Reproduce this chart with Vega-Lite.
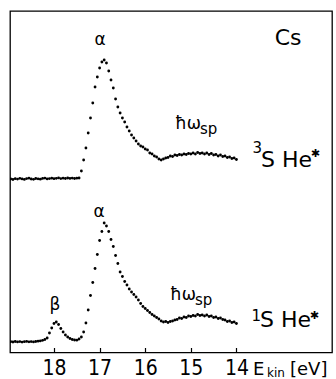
{
  "$schema": "https://vega.github.io/schema/vega-lite/v6.json",
  "autosize": "none",
  "padding": {"left": 10, "top": 11, "right": 4, "bottom": 26.5},
  "width": 322,
  "height": 341.5,
  "background": "white",
  "config": {
    "view": {"stroke": "black", "strokeWidth": 1.3},
    "font": "DejaVu Sans"
  },
  "datasets": {
    "spectra": [
      {"s":"3S","e":18.95,"c":173.5},{"s":"3S","e":18.90,"c":173.0},{"s":"3S","e":18.85,"c":173.8},{"s":"3S","e":18.80,"c":173.4},
      {"s":"3S","e":18.75,"c":174.2},{"s":"3S","e":18.70,"c":173.6},{"s":"3S","e":18.65,"c":173.1},{"s":"3S","e":18.60,"c":173.9},
      {"s":"3S","e":18.55,"c":174.3},{"s":"3S","e":18.50,"c":173.5},{"s":"3S","e":18.45,"c":173.2},{"s":"3S","e":18.40,"c":174.0},
      {"s":"3S","e":18.35,"c":173.7},{"s":"3S","e":18.30,"c":173.3},{"s":"3S","e":18.25,"c":174.1},{"s":"3S","e":18.20,"c":174.4},
      {"s":"3S","e":18.15,"c":173.6},{"s":"3S","e":18.10,"c":173.9},{"s":"3S","e":18.05,"c":174.3},{"s":"3S","e":18.00,"c":173.8},
      {"s":"3S","e":17.95,"c":174.2},{"s":"3S","e":17.90,"c":174.6},{"s":"3S","e":17.85,"c":173.9},{"s":"3S","e":17.80,"c":174.3},
      {"s":"3S","e":17.75,"c":174.0},{"s":"3S","e":17.70,"c":174.5},{"s":"3S","e":17.65,"c":174.1},{"s":"3S","e":17.60,"c":174.4},
      {"s":"3S","e":17.55,"c":174.0},{"s":"3S","e":17.50,"c":174.3},{"s":"3S","e":17.45,"c":174.5},{"s":"3S","e":17.40,"c":181.5},
      {"s":"3S","e":17.35,"c":192.5},{"s":"3S","e":17.30,"c":204.5},{"s":"3S","e":17.25,"c":219.5},{"s":"3S","e":17.20,"c":234.5},
      {"s":"3S","e":17.15,"c":249.5},{"s":"3S","e":17.10,"c":265.5},{"s":"3S","e":17.05,"c":275.5},{"s":"3S","e":17.00,"c":284.5},
      {"s":"3S","e":16.95,"c":290.5},{"s":"3S","e":16.90,"c":292.5},{"s":"3S","e":16.85,"c":289.5},{"s":"3S","e":16.80,"c":281.5},
      {"s":"3S","e":16.75,"c":272.5},{"s":"3S","e":16.70,"c":264.5},{"s":"3S","e":16.65,"c":253.5},{"s":"3S","e":16.60,"c":245.5},
      {"s":"3S","e":16.55,"c":239.5},{"s":"3S","e":16.50,"c":234.5},{"s":"3S","e":16.45,"c":230.5},{"s":"3S","e":16.40,"c":225.5},
      {"s":"3S","e":16.35,"c":221.5},{"s":"3S","e":16.30,"c":217.5},{"s":"3S","e":16.25,"c":214.5},{"s":"3S","e":16.20,"c":211.5},
      {"s":"3S","e":16.15,"c":208.5},{"s":"3S","e":16.10,"c":206.5},{"s":"3S","e":16.05,"c":205.5},{"s":"3S","e":16.00,"c":203.5},
      {"s":"3S","e":15.95,"c":202.5},{"s":"3S","e":15.90,"c":199.5},{"s":"3S","e":15.85,"c":198.5},{"s":"3S","e":15.80,"c":196.5},
      {"s":"3S","e":15.75,"c":195.5},{"s":"3S","e":15.70,"c":193.5},{"s":"3S","e":15.65,"c":192.5},{"s":"3S","e":15.60,"c":193.5},
      {"s":"3S","e":15.55,"c":194.5},{"s":"3S","e":15.50,"c":195.0},{"s":"3S","e":15.45,"c":196.5},{"s":"3S","e":15.40,"c":196.0},
      {"s":"3S","e":15.35,"c":197.5},{"s":"3S","e":15.30,"c":197.0},{"s":"3S","e":15.25,"c":198.0},{"s":"3S","e":15.20,"c":197.5},
      {"s":"3S","e":15.15,"c":198.5},{"s":"3S","e":15.10,"c":198.0},{"s":"3S","e":15.05,"c":199.0},{"s":"3S","e":15.00,"c":198.5},
      {"s":"3S","e":14.95,"c":199.5},{"s":"3S","e":14.90,"c":198.5},{"s":"3S","e":14.85,"c":200.0},{"s":"3S","e":14.80,"c":199.0},
      {"s":"3S","e":14.75,"c":199.5},{"s":"3S","e":14.70,"c":198.5},{"s":"3S","e":14.65,"c":199.5},{"s":"3S","e":14.60,"c":198.0},
      {"s":"3S","e":14.55,"c":199.0},{"s":"3S","e":14.50,"c":197.5},{"s":"3S","e":14.45,"c":198.0},{"s":"3S","e":14.40,"c":196.5},
      {"s":"3S","e":14.35,"c":197.5},{"s":"3S","e":14.30,"c":196.0},{"s":"3S","e":14.25,"c":196.5},{"s":"3S","e":14.20,"c":195.0},
      {"s":"3S","e":14.15,"c":195.5},{"s":"3S","e":14.10,"c":194.0},{"s":"3S","e":14.05,"c":194.5},{"s":"3S","e":14.00,"c":193.0},

      {"s":"1S","e":18.95,"c":10.8},{"s":"1S","e":18.90,"c":10.5},{"s":"1S","e":18.85,"c":11.0},{"s":"1S","e":18.80,"c":10.6},
      {"s":"1S","e":18.75,"c":10.9},{"s":"1S","e":18.70,"c":10.4},{"s":"1S","e":18.65,"c":10.8},{"s":"1S","e":18.60,"c":11.1},
      {"s":"1S","e":18.55,"c":10.7},{"s":"1S","e":18.50,"c":10.9},{"s":"1S","e":18.45,"c":10.6},{"s":"1S","e":18.40,"c":11.0},
      {"s":"1S","e":18.35,"c":11.3},{"s":"1S","e":18.30,"c":11.6},{"s":"1S","e":18.25,"c":12.2},{"s":"1S","e":18.20,"c":13.0},
      {"s":"1S","e":18.15,"c":14.5},{"s":"1S","e":18.10,"c":19.5},{"s":"1S","e":18.05,"c":24.5},{"s":"1S","e":18.00,"c":29.0},
      {"s":"1S","e":17.95,"c":30.5},{"s":"1S","e":17.90,"c":28.0},{"s":"1S","e":17.85,"c":24.0},{"s":"1S","e":17.80,"c":20.5},
      {"s":"1S","e":17.75,"c":17.5},{"s":"1S","e":17.70,"c":15.5},{"s":"1S","e":17.65,"c":14.0},{"s":"1S","e":17.60,"c":13.0},
      {"s":"1S","e":17.55,"c":12.5},{"s":"1S","e":17.50,"c":12.3},{"s":"1S","e":17.45,"c":13.5},{"s":"1S","e":17.40,"c":15.5},
      {"s":"1S","e":17.35,"c":20.5},{"s":"1S","e":17.30,"c":29.5},{"s":"1S","e":17.25,"c":42.5},{"s":"1S","e":17.20,"c":57.0},
      {"s":"1S","e":17.15,"c":70.0},{"s":"1S","e":17.10,"c":84.0},{"s":"1S","e":17.05,"c":98.0},{"s":"1S","e":17.00,"c":112.0},
      {"s":"1S","e":16.95,"c":121.0},{"s":"1S","e":16.90,"c":129.5},{"s":"1S","e":16.85,"c":126.5},{"s":"1S","e":16.80,"c":121.0},
      {"s":"1S","e":16.75,"c":113.0},{"s":"1S","e":16.70,"c":106.0},{"s":"1S","e":16.65,"c":97.0},{"s":"1S","e":16.60,"c":89.0},
      {"s":"1S","e":16.55,"c":80.5},{"s":"1S","e":16.50,"c":76.0},{"s":"1S","e":16.45,"c":71.0},{"s":"1S","e":16.40,"c":67.5},
      {"s":"1S","e":16.35,"c":63.5},{"s":"1S","e":16.30,"c":60.5},{"s":"1S","e":16.25,"c":58.0},{"s":"1S","e":16.20,"c":55.5},
      {"s":"1S","e":16.15,"c":52.5},{"s":"1S","e":16.10,"c":49.0},{"s":"1S","e":16.05,"c":46.0},{"s":"1S","e":16.00,"c":44.0},
      {"s":"1S","e":15.95,"c":42.0},{"s":"1S","e":15.90,"c":40.0},{"s":"1S","e":15.85,"c":38.0},{"s":"1S","e":15.80,"c":36.5},
      {"s":"1S","e":15.75,"c":35.0},{"s":"1S","e":15.70,"c":33.5},{"s":"1S","e":15.65,"c":31.5},{"s":"1S","e":15.60,"c":30.5},
      {"s":"1S","e":15.55,"c":31.0},{"s":"1S","e":15.50,"c":30.0},{"s":"1S","e":15.45,"c":31.0},{"s":"1S","e":15.40,"c":31.5},
      {"s":"1S","e":15.35,"c":32.5},{"s":"1S","e":15.30,"c":33.0},{"s":"1S","e":15.25,"c":34.5},{"s":"1S","e":15.20,"c":34.0},
      {"s":"1S","e":15.15,"c":35.5},{"s":"1S","e":15.10,"c":35.0},{"s":"1S","e":15.05,"c":36.5},{"s":"1S","e":15.00,"c":36.0},
      {"s":"1S","e":14.95,"c":37.0},{"s":"1S","e":14.90,"c":36.5},{"s":"1S","e":14.85,"c":38.0},{"s":"1S","e":14.80,"c":37.0},
      {"s":"1S","e":14.75,"c":37.5},{"s":"1S","e":14.70,"c":36.5},{"s":"1S","e":14.65,"c":37.5},{"s":"1S","e":14.60,"c":36.0},
      {"s":"1S","e":14.55,"c":36.5},{"s":"1S","e":14.50,"c":35.0},{"s":"1S","e":14.45,"c":35.5},{"s":"1S","e":14.40,"c":34.0},
      {"s":"1S","e":14.35,"c":34.5},{"s":"1S","e":14.30,"c":33.0},{"s":"1S","e":14.25,"c":32.5},{"s":"1S","e":14.20,"c":31.0},
      {"s":"1S","e":14.15,"c":31.5},{"s":"1S","e":14.10,"c":30.0},{"s":"1S","e":14.05,"c":30.5},{"s":"1S","e":14.00,"c":29.0}
    ]
  },
  "encoding": {
    "x": {
      "field": "e", "type": "quantitative",
      "scale": {"domain": [18.965, 11.904], "nice": false, "zero": false},
      "axis": {
        "values": [18, 17, 16, 15, 14], "title": null, "grid": false, "domain": false,
        "tickSize": -5, "tickColor": "black", "tickWidth": 1.2,
        "labelFont": "Liberation Sans Narrow, DejaVu Sans Condensed, sans-serif",
        "labelFontSize": 21, "labelColor": "black", "labelPadding": 10, "labelFlush": false
      }
    },
    "y": {
      "field": "c", "type": "quantitative",
      "scale": {"domain": [0, 341.5], "nice": false, "zero": false},
      "axis": null
    }
  },
  "layer": [
    {
      "data": {"name": "spectra"},
      "mark": {"type": "point", "filled": true, "size": 8, "color": "black", "opacity": 1, "clip": true}
    },
    {
      "data": {"values": [
        {"e": 16.99, "c": 307.5, "t": "α"},
        {"e": 17.01, "c": 135.5, "t": "α"},
        {"e": 17.98, "c": 42.5, "t": "β"}
      ]},
      "mark": {"type": "text", "align": "center", "baseline": "alphabetic", "fontSize": 17, "color": "black"},
      "encoding": {"text": {"field": "t"}}
    },
    {
      "data": {"values": [{"e": 12.868, "c": 307.5, "t": "Cs"}]},
      "mark": {"type": "text", "align": "center", "baseline": "alphabetic", "fontSize": 22, "color": "black"},
      "encoding": {"text": {"field": "t"}}
    },
    {
      "data": {"values": [
        {"e": 15.346, "c": 223.5, "t": "ħω"},
        {"e": 15.456, "c": 52.5, "t": "ħω"}
      ]},
      "mark": {"type": "text", "align": "left", "baseline": "alphabetic", "fontSize": 17, "color": "black"},
      "encoding": {"text": {"field": "t"}}
    },
    {
      "data": {"values": [
        {"e": 14.80, "c": 218.5, "t": "sp"},
        {"e": 14.91, "c": 47.5, "t": "sp"}
      ]},
      "mark": {"type": "text", "align": "left", "baseline": "alphabetic", "fontSize": 15, "color": "black"},
      "encoding": {"text": {"field": "t"}}
    },
    {
      "data": {"values": [
        {"e": 13.65, "c": 199.5, "t": "3"},
        {"e": 13.67, "c": 31.5, "t": "1"}
      ]},
      "mark": {"type": "text", "align": "left", "baseline": "alphabetic", "fontSize": 15, "color": "black"},
      "encoding": {"text": {"field": "t"}}
    },
    {
      "data": {"values": [
        {"e": 13.461, "c": 185.5, "t": "S He"},
        {"e": 13.482, "c": 25.5, "t": "S He"}
      ]},
      "mark": {"type": "text", "align": "left", "baseline": "alphabetic", "fontSize": 22, "color": "black"},
      "encoding": {"text": {"field": "t"}}
    },
    {
      "data": {"values": [
        {"e": 12.37, "c": 196, "t": "✱"},
        {"e": 12.39, "c": 34, "t": "✱"}
      ]},
      "mark": {"type": "text", "align": "left", "baseline": "alphabetic", "fontSize": 11, "color": "black"},
      "encoding": {"text": {"field": "t"}}
    },
    {
      "data": {"values": [
        {"e": 13.636, "c": -22.5, "t": "E"},
        {"e": 12.825, "c": -22.5, "t": "[eV]"}
      ]},
      "mark": {"type": "text", "align": "left", "baseline": "alphabetic", "fontSize": 18, "color": "black"},
      "encoding": {"text": {"field": "t"}}
    },
    {
      "data": {"values": [{"e": 13.329, "c": -24.5, "t": "kin"}]},
      "mark": {"type": "text", "align": "left", "baseline": "alphabetic", "fontSize": 12, "color": "black"},
      "encoding": {"text": {"field": "t"}}
    }
  ]
}
